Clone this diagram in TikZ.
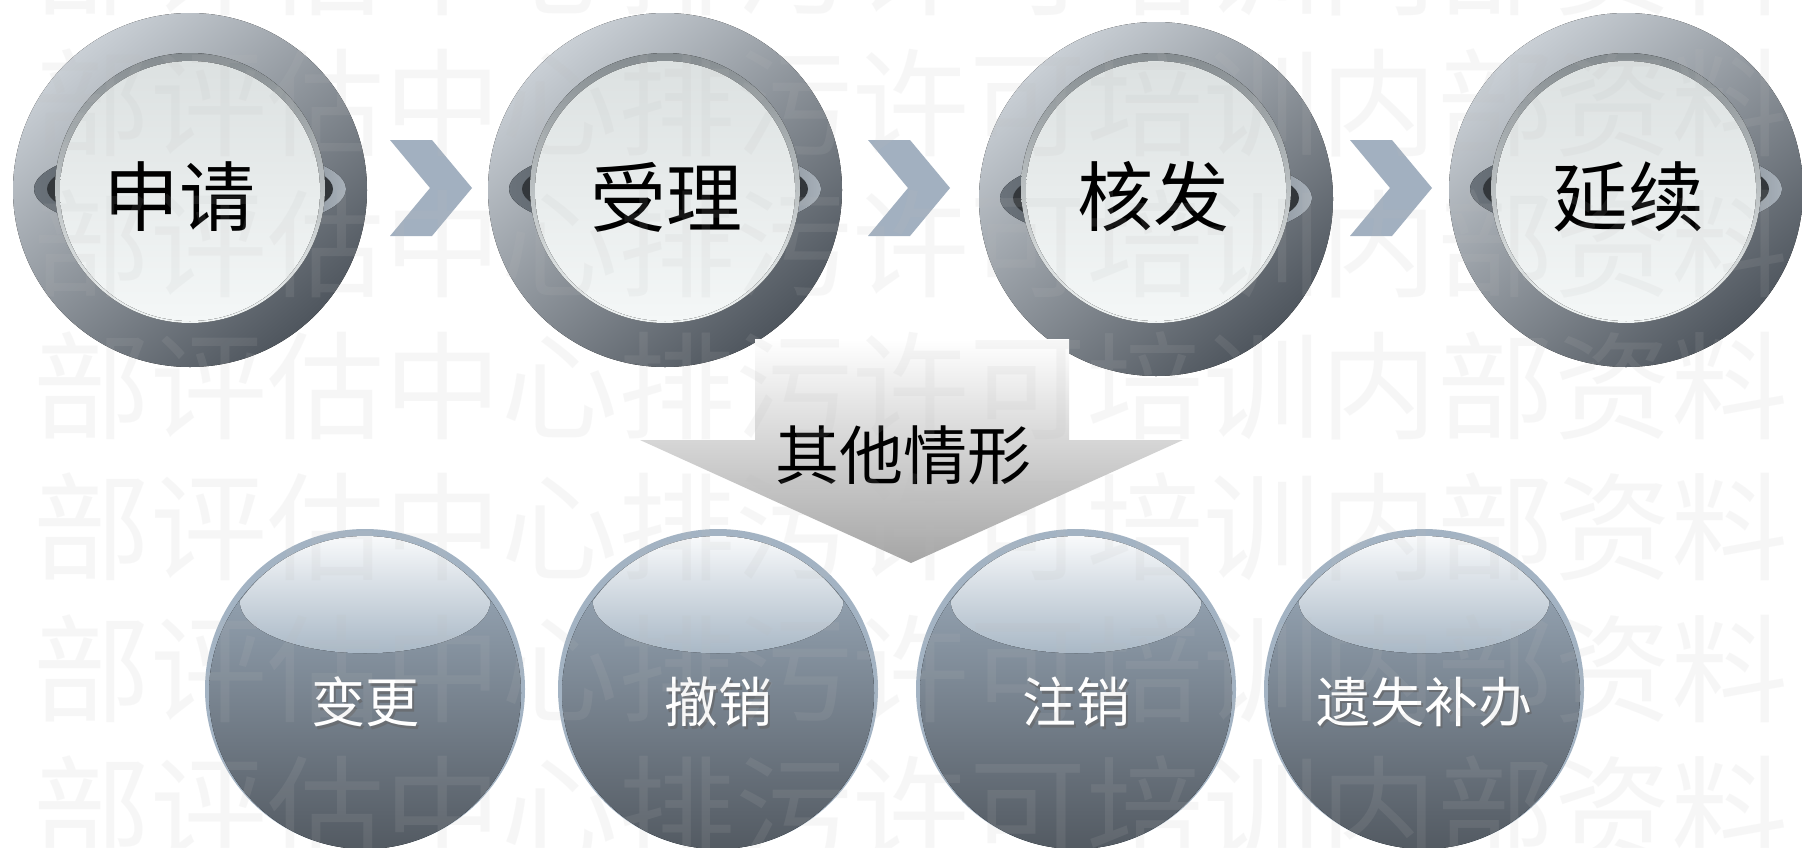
\documentclass[tikz,border=0pt]{standalone}
\usepackage{fontspec}
\newfontfamily\cjk{Noto Sans CJK SC}
\definecolor{ringlight}{HTML}{C9CFD5}
\definecolor{ringdark}{HTML}{4F565E}
\definecolor{earL}{HTML}{6A727A}
\definecolor{earM}{HTML}{4A5056}
\definecolor{earR}{HTML}{A7B0B9}
\definecolor{earD}{HTML}{33373B}
\definecolor{btnrim}{HTML}{858C90}
\definecolor{btnedge}{HTML}{F0F4F4}
\definecolor{btntop}{HTML}{DCE1E1}
\definecolor{btnbot}{HTML}{F4F7F7}
\definecolor{chev}{HTML}{A2B0C0}
\definecolor{sphrim}{HTML}{A3B3C3}
\definecolor{sphtop}{HTML}{A0B0C0}
\definecolor{sphmid}{HTML}{838D98}
\definecolor{sphbot}{HTML}{535A62}
\definecolor{hltop}{HTML}{FBFCFD}
\definecolor{hlbot}{HTML}{A9B8C6}
\definecolor{arrowgray}{HTML}{A5A5A5}
\definecolor{wm}{HTML}{BDBDBD}
\definecolor{shadowgray}{HTML}{6A6E73}
\tikzset{
  toptext/.style={font=\cjk\fontsize{38}{38}\selectfont, text=black, inner sep=0pt},
  bottext/.style={font=\cjk\fontsize{27}{27}\selectfont, text=white, inner sep=0pt},
  botshadow/.style={font=\cjk\fontsize{27}{27}\selectfont, text=shadowgray, inner sep=0pt},
  othertext/.style={font=\cjk\fontsize{32}{32}\selectfont, text=black, inner sep=0pt},
  wmtext/.style={font=\cjk\fontsize{58.5}{58.5}\selectfont, text=wm, text opacity=0.12, inner sep=0pt, anchor=base west},
  chevshape/.style={fill=chev},
}
% #1 cx, #2 ring cy, #3 node name, #4 text x, #5 label
\newcommand\topbutton[5]{%
  \begin{scope}[shift={(#1,-#2)}]
    \fill[top color=ringlight, bottom color=ringdark, shading angle=40] (0,0) circle[radius=177];
    \fill[left color=earL, right color=earR, middle color=earM] (0,1) ellipse[x radius=156, y radius=45];
    \fill[earD] (0,1) ellipse[x radius=143, y radius=38];
  \end{scope}
  \begin{scope}[shift={(#1,-188)}]
    \fill[top color=btnrim, bottom color=btnedge] (0,0) circle[radius=135];
    \fill[top color=btntop, bottom color=btnbot] (0,-3) circle[radius=130];
  \end{scope}
  \node[toptext] (#3) at (#4,-197) {#5};
}
% #1 cx, #2 node name, #3 label
\newcommand\botsphere[3]{%
  \begin{scope}[shift={(#1,-689)}]
    \fill[sphrim] (0,0) circle[radius=160];
    \fill[top color=sphtop, middle color=sphmid, bottom color=sphbot] (0,-4) circle[radius=156];
    \fill[top color=hltop, bottom color=hlbot]
      (145:153) arc[start angle=145, end angle=35, radius=153]
      arc[start angle=0, end angle=-180, x radius=125.3, y radius=52] -- cycle;
  \end{scope}
  \node[botshadow] at (#1+2.5,-704.5) {#3};
  \node[bottext] (#2) at (#1,-702) {#3};
}
\newcommand\chevron[1]{%
  \fill[chevshape] (#1,-140) -- ++(42,0) -- ++(40,-48) -- ++(-40,-48) -- ++(-42,0) -- ++(40,48) -- cycle;
}
\begin{document}
\begin{tikzpicture}[x=0.5pt,y=0.5pt]
\useasboundingbox (0,0) rectangle (1802,-847);
\clip (0,0) rectangle (1802,-847);
\fill[white] (0,0) rectangle (1802,-847);

% top row
\topbutton{190}{190}{apply}{179}{申请}
\topbutton{665}{190}{accept}{666}{受理}
\topbutton{1156}{199}{issue}{1153}{核发}
\topbutton{1626}{190}{renew}{1628}{延续}

\chevron{390}
\chevron{868}
\chevron{1350}

% down arrow
\shade[top color=white, bottom color=arrowgray]
  (755,-339) -- (1069,-339) -- (1069,-440) -- (1183,-440) -- (911,-563)
  -- (640,-440) -- (755,-440) -- cycle;
\node[othertext] (other) at (903,-455) {其他情形};

% bottom row
\botsphere{365}{change}{变更}
\botsphere{718}{revoke}{撤销}
\botsphere{1076}{cancel}{注销}
\botsphere{1424}{reissue}{遗失补办}

% watermark
\foreach \yy [count=\i] in {6,147,288.5,430,571.5,713,854.5}{
  \node[wmtext] (wm\i) at (33,-\yy) {部评估中心排污许可培训内部资料};
}
\end{tikzpicture}
\end{document}
